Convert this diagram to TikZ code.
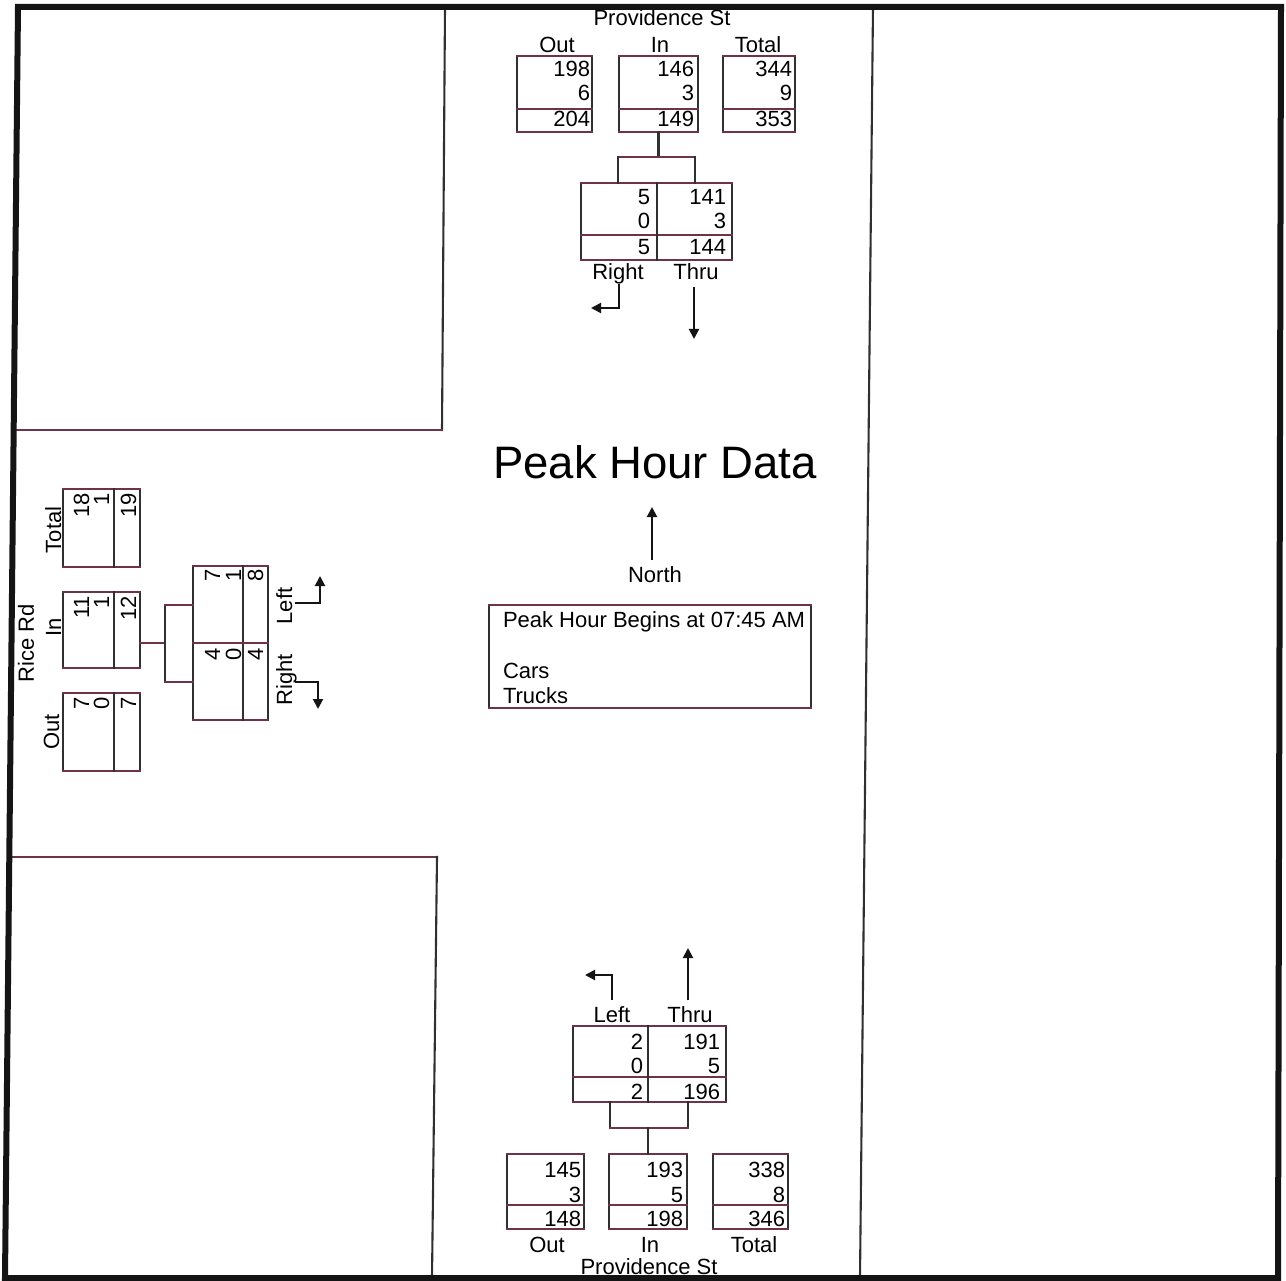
\documentclass[tikz,border=0pt]{standalone}
\usepackage{fontspec}
\setmainfont{Liberation Sans}
\usetikzlibrary{arrows.meta,calc}
\definecolor{vcol}{HTML}{303030}
\definecolor{hcol}{HTML}{6E3444}
\definecolor{fcol}{HTML}{141414}
\tikzset{
 vl/.style={draw=vcol,line width=2.1pt,line cap=rect},
 hl/.style={draw=hcol,line width=2.1pt,line cap=rect},
 bx/.style={draw=none,inner sep=0pt,outer sep=0pt,rectangle},
 txt/.style={inner sep=0pt,outer sep=0pt,font=\fontsize{22}{26}\selectfont,text=black},
 num/.style={txt,anchor=base east},
 rnum/.style={txt,rotate=90,anchor=base east},
 lbl/.style={txt,anchor=base},
 rlbl/.style={txt,rotate=90,anchor=base},
 arr/.style={draw=fcol,line width=2pt,-{Triangle[width=10pt,length=10pt]}},
 framebox/.style={draw=fcol,line width=6pt,line join=miter},
}
\newcommand\mkbox[5]{%
 \node[bx,minimum width={(#4-#2)*1pt},minimum height={(#5-#3)*1pt}] (#1) at ({(#2+#4)/2},{(#3+#5)/2}) {};
 \draw[vl] (#1.north west) -- (#1.south west) (#1.north east) -- (#1.south east);
 \draw[hl] (#1.north west) -- (#1.north east) (#1.south west) -- (#1.south east);
}
\newcommand\mkhtab[6]{\mkbox{#1}{#2}{#3}{#4}{#5}\draw[hl] (#2,#6) -- (#4,#6);}
\newcommand\mkvtab[6]{\mkbox{#1}{#2}{#3}{#4}{#5}\draw[vl] (#6,#3) -- (#6,#5);}
\begin{document}
\begin{tikzpicture}[x=1pt,y=-1pt]
\fill[white] (0,0) rectangle (1286,1281);
\useasboundingbox (0,0) rectangle (1286,1281);

% quadrant lines
\draw[vl] (445,7) -- (442,430);
\draw[hl] (14,430) -- (442,430);
\draw[hl] (10,857) -- (437,857);
\draw[vl] (437,857) -- (432,1278);
\draw[vl] (873,7) -- (860,1278);

% ---------- north approach ----------
\node[lbl] (nName) at (662,26) {Providence St};
\node[lbl] (nOutL) at (557,53) {Out};
\node[lbl] (nInL) at (660,53) {In};
\node[lbl] (nTotL) at (758,53) {Total};
\mkhtab{nOut}{517}{56}{592}{132}{109}
\mkhtab{nIn}{619}{56}{698}{132}{109}
\mkhtab{nTot}{723}{56}{795}{132}{109}
\node[num] (nOut1) at (590,77) {198};
\node[num] (nOut2) at (590,101) {6};
\node[num] (nOut3) at (590,127) {204};
\node[num] (nIn1) at (694,77) {146};
\node[num] (nIn2) at (694,101) {3};
\node[num] (nIn3) at (694,127) {149};
\node[num] (nTot1) at (792,77) {344};
\node[num] (nTot2) at (792,101) {9};
\node[num] (nTot3) at (792,127) {353};

\mkhtab{nMv}{581}{183}{732}{260}{235}
\draw[vl] (657,183) -- (657,260);
\node[num] (nR1) at (650,205) {5};
\node[num] (nR2) at (650,229) {0};
\node[num] (nR3) at (650,255) {5};
\node[num] (nT1) at (726,205) {141};
\node[num] (nT2) at (726,229) {3};
\node[num] (nT3) at (726,255) {144};

\coordinate (nbL) at (618,157);
\coordinate (nbR) at (695,157);
\draw[vl] (nIn.south) -- (nIn.south |- nbL);
\draw[hl] (nbL) -- (nbR);
\draw[vl] (nbL) -- (nbL |- nMv.north);
\draw[vl] (nbR) -- (nbR |- nMv.north);

\node[lbl] (nRightL) at (618,280) {Right};
\node[lbl] (nThruL) at (696,280) {Thru};
\coordinate (nRa) at (619,284);
\coordinate (nRb) at (591,308);
\draw[arr] (nRa) |- (nRb);
\coordinate (nTa) at (694,287);
\coordinate (nTb) at (694,339);
\draw[arr] (nTa) -- (nTb);

% ---------- centre ----------
\node[txt,anchor=base,font=\fontsize{45.5}{50}\selectfont] (title) at (655,478) {Peak Hour Data};
\coordinate (northA) at (652,560);
\coordinate (northB) at (652,507);
\draw[arr] (northA) -- (northB);
\node[lbl] (northL) at (655,582) {North};
\mkbox{info}{489}{605}{811}{708}
\node[txt,anchor=base west] (infoA) at (503,627) {Peak Hour Begins at 07:45 AM};
\node[txt,anchor=base west] (infoB) at (503,678) {Cars};
\node[txt,anchor=base west] (infoC) at (503,703) {Trucks};

% ---------- west approach ----------
\node[rlbl] (wName) at (34,643) {Rice Rd};
\node[rlbl] (wTotL) at (61,530) {Total};
\node[rlbl] (wInL) at (61,627) {In};
\node[rlbl] (wOutL) at (59,732) {Out};
\mkvtab{wTot}{63}{489}{140}{567}{114}
\mkvtab{wIn}{63}{592}{140}{668}{114}
\mkvtab{wOut}{63}{693}{140}{771}{114}
\node[rnum] (wTot1) at (89,493) {18};
\node[rnum] (wTot2) at (109,493) {1};
\node[rnum] (wTot3) at (136,493) {19};
\node[rnum] (wIn1) at (89,596) {11};
\node[rnum] (wIn2) at (109,596) {1};
\node[rnum] (wIn3) at (136,596) {12};
\node[rnum] (wOut1) at (89,697) {7};
\node[rnum] (wOut2) at (109,697) {0};
\node[rnum] (wOut3) at (136,697) {7};

\mkvtab{wMv}{193}{566}{268}{720}{243}
\draw[hl] (193,643) -- (268,643);
\node[rnum] (wL1) at (220,569) {7};
\node[rnum] (wL2) at (241,569) {1};
\node[rnum] (wL3) at (263,569) {8};
\node[rnum] (wR1) at (220,648) {4};
\node[rnum] (wR2) at (241,648) {0};
\node[rnum] (wR3) at (263,648) {4};

\coordinate (wb) at (165,643);
\coordinate (wbT) at (165,605);
\coordinate (wbB) at (165,682);
\draw[hl] (wIn.east |- wb) -- (wb);
\draw[vl] (wbT) -- (wbB);
\draw[hl] (wbT) -- (wbT -| wMv.west);
\draw[hl] (wbB) -- (wbB -| wMv.west);

\node[rlbl] (wLeftL) at (292,606) {Left};
\node[rlbl] (wRightL) at (292,680) {Right};
\coordinate (wLa) at (295,603);
\coordinate (wLb) at (320,576);
\draw[arr] (wLa) -| (wLb);
\coordinate (wRa) at (295,682);
\coordinate (wRb) at (318,709);
\draw[arr] (wRa) -| (wRb);

% ---------- south approach ----------
\mkhtab{sMv}{573}{1026}{726}{1102}{1077}
\draw[vl] (648,1026) -- (648,1102);
\node[num] (sL1) at (643,1049) {2};
\node[num] (sL2) at (643,1073) {0};
\node[num] (sL3) at (643,1099) {2};
\node[num] (sT1) at (720,1049) {191};
\node[num] (sT2) at (720,1073) {5};
\node[num] (sT3) at (720,1099) {196};
\node[lbl] (sLeftL) at (612,1022) {Left};
\node[lbl] (sThruL) at (690,1022) {Thru};
\coordinate (sLa) at (612,1000);
\coordinate (sLb) at (585,975);
\draw[arr] (sLa) |- (sLb);
\coordinate (sTa) at (688,1000);
\coordinate (sTb) at (688,948);
\draw[arr] (sTa) -- (sTb);

\mkhtab{sOut}{507}{1154}{584}{1229}{1205}
\mkhtab{sIn}{609}{1154}{687}{1229}{1205}
\mkhtab{sTot}{713}{1154}{788}{1229}{1205}
\coordinate (sbL) at (610,1128);
\coordinate (sbR) at (688,1128);
\draw[vl] (sbL |- sMv.south) -- (sbL);
\draw[vl] (sbR |- sMv.south) -- (sbR);
\draw[hl] (sbL) -- (sbR);
\draw[vl] (sIn.north |- sbL) -- (sIn.north);
\node[num] (sOut1) at (581,1177) {145};
\node[num] (sOut2) at (581,1202) {3};
\node[num] (sOut3) at (581,1226) {148};
\node[num] (sIn1) at (683,1177) {193};
\node[num] (sIn2) at (683,1202) {5};
\node[num] (sIn3) at (683,1226) {198};
\node[num] (sTot1) at (785,1177) {338};
\node[num] (sTot2) at (785,1202) {8};
\node[num] (sTot3) at (785,1226) {346};
\node[lbl] (sOutL) at (547,1252) {Out};
\node[lbl] (sInL) at (650,1252) {In};
\node[lbl] (sTotL) at (754,1252) {Total};
\node[lbl] (sName) at (649,1274) {Providence St};

% outer frame
\draw[framebox] (18,7) -- (1281,7) -- (1278,1278) -- (5,1278) -- cycle;
\end{tikzpicture}
\end{document}
